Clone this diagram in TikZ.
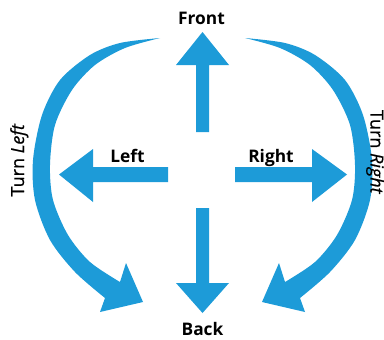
\documentclass[tikz,border=0pt]{standalone}
\usepackage{fontspec}
\setmainfont{Open Sans}
\newfontfamily\turnfont[FakeBold=0.6]{Open Sans}
\definecolor{arrowblue}{RGB}{29,155,216}
\begin{document}
\begin{tikzpicture}[x=0.75pt,y=-0.75pt,
  blueshape/.style={fill=arrowblue},
  dirlabel/.style={font=\fontsize{13}{15}\selectfont\bfseries, anchor=base, inner sep=0pt},
  turnlabel/.style={font=\turnfont\fontsize{13.5}{15}\selectfont, anchor=base, inner sep=0pt}]
\useasboundingbox (0,0) rectangle (384,339);
% straight arrows
\fill[blueshape] (196,132) -- (196,65) -- (176,65) -- (202.5,32) -- (229,65) -- (209,65) -- (209,132) -- cycle;
\fill[blueshape] (196,208) -- (196,283) -- (176,283) -- (202.5,313) -- (229,283) -- (209,283) -- (209,208) -- cycle;
\fill[blueshape] (168,167) -- (93,167) -- (93,149) -- (59,174.5) -- (93,202) -- (93,182) -- (168,182) -- cycle;
\fill[blueshape] (235,167) -- (312,167) -- (312,149) -- (347,174.5) -- (312,202) -- (312,182) -- (235,182) -- cycle;
% curved arrows
\def\curvedarrow{%
  \fill[blueshape] plot[smooth] coordinates {(160,38) (120,43) (90,55) (60,80) (42,115) (33,160) (35,200) (50,240) (75,272) (105,298)}
    -- (100,312) -- (143,302) -- (126,263)
    -- plot[smooth] coordinates {(120,282) (90,262) (68,235) (53,200) (50,165) (55,125) (72,90) (95,65) (125,48) (160,38)} -- cycle;}
\curvedarrow
\begin{scope}[shift={(405,0)},xscale=-1]
\curvedarrow
\end{scope}
% labels
\node[dirlabel] (front) at (201.5,24.5) {Front};
\node[dirlabel] (back) at (202.5,335) {Back};
\node[dirlabel] (left) at (127.5,162) {Left};
\node[dirlabel] (right) at (271,162) {Right};
\node[turnlabel, rotate=90] (turnleft) at (24,160) {Turn \textit{Left}};
\node[turnlabel, rotate=-90] (turnright) at (370.5,152) {Turn \textit{Right}};
\end{tikzpicture}
\end{document}
